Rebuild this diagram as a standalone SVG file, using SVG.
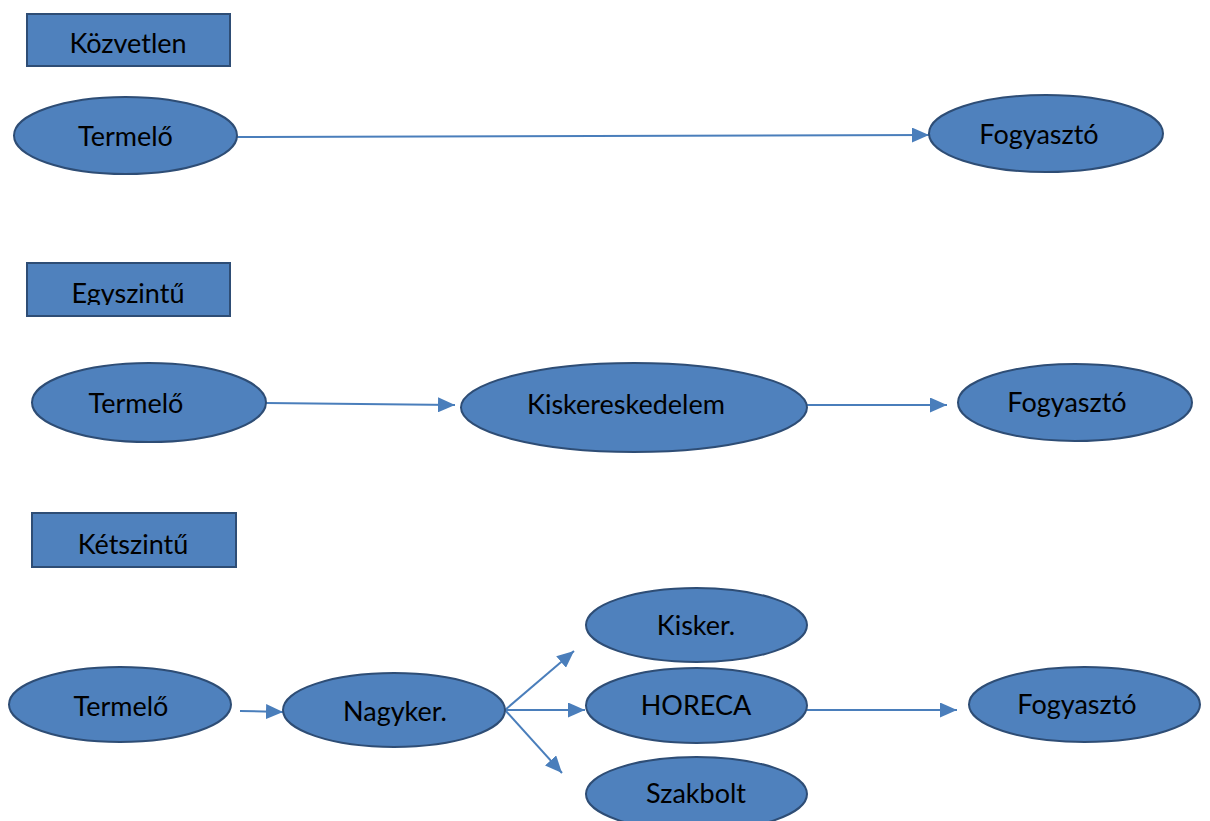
<svg xmlns="http://www.w3.org/2000/svg" width="1210" height="821" viewBox="0 0 1210 821">
<style>
.box{fill:#4F81BD;stroke:#2E4D75;stroke-width:2}
.node{fill:#4F81BD;stroke:#2E4D75;stroke-width:2}
.lbl{font-family:Lato,"Liberation Sans",sans-serif;font-size:27px;fill:#000;text-anchor:middle}
.conn{stroke:#4A7EBB;stroke-width:2;fill:none;marker-end:url(#arr)}
</style>
<defs>
<marker id="arr" markerUnits="userSpaceOnUse" markerWidth="17" markerHeight="15" refX="17" refY="7.5" orient="auto">
<path d="M0,0 L17,7.5 L0,15 Z" fill="#4A7EBB"/>
</marker>
<clipPath id="clipEgy"><rect x="28" y="264" width="202" height="41"/></clipPath>
</defs>
<rect width="1210" height="821" fill="#fff"/>

<g id="connectors">
<line class="conn" x1="237" y1="137" x2="929" y2="135"/>
<line class="conn" x1="266" y1="403" x2="455" y2="405"/>
<line class="conn" x1="807" y1="405" x2="947" y2="405"/>
<line class="conn" x1="240" y1="711" x2="283" y2="712"/>
<line class="conn" x1="505" y1="710" x2="574" y2="651"/>
<line class="conn" x1="505" y1="710" x2="585" y2="710"/>
<line class="conn" x1="505" y1="710" x2="562" y2="773"/>
<line class="conn" x1="807" y1="710" x2="957" y2="710"/>
</g>

<g id="label-kozvetlen">
<rect class="box" x="27" y="14" width="203" height="52"/>
<text class="lbl" x="128" y="53">Közvetlen</text>
</g>
<g id="termelo1">
<ellipse class="node" cx="125.5" cy="135.5" rx="111.5" ry="38.5"/>
<text class="lbl" x="125.5" y="146">Termelő</text>
</g>
<g id="fogyaszto1">
<ellipse class="node" cx="1046" cy="133.5" rx="117" ry="38.5"/>
<text class="lbl" x="1039" y="144">Fogyasztó</text>
</g>

<g id="label-egyszintu">
<rect class="box" x="27" y="263" width="203" height="53"/>
<text class="lbl" x="128" y="303" clip-path="url(#clipEgy)">Egyszintű</text>
</g>
<g id="termelo2">
<ellipse class="node" cx="149" cy="402.5" rx="117" ry="39.5"/>
<text class="lbl" x="136" y="413">Termelő</text>
</g>
<g id="kiskereskedelem">
<ellipse class="node" cx="634" cy="407.5" rx="173" ry="44.5"/>
<text class="lbl" x="626" y="414">Kiskereskedelem</text>
</g>
<g id="fogyaszto2">
<ellipse class="node" cx="1075" cy="402.5" rx="117" ry="38.5"/>
<text class="lbl" x="1067" y="412">Fogyasztó</text>
</g>

<g id="label-ketszintu">
<rect class="box" x="32" y="513" width="204" height="54"/>
<text class="lbl" x="133" y="554">Kétszintű</text>
</g>
<g id="termelo3">
<ellipse class="node" cx="120" cy="704.5" rx="111" ry="37.5"/>
<text class="lbl" x="121" y="716">Termelő</text>
</g>
<g id="nagyker">
<ellipse class="node" cx="394" cy="710" rx="111" ry="37"/>
<text class="lbl" x="395" y="721">Nagyker.</text>
</g>
<g id="kisker">
<ellipse class="node" cx="696.5" cy="625" rx="110.5" ry="37"/>
<text class="lbl" x="696" y="635">Kisker.</text>
</g>
<g id="horeca">
<ellipse class="node" cx="696.5" cy="705.5" rx="110.5" ry="37.5"/>
<text class="lbl" x="696" y="715">HORECA</text>
</g>
<g id="szakbolt">
<ellipse class="node" cx="696.5" cy="794" rx="110.5" ry="37"/>
<text class="lbl" x="696" y="803">Szakbolt</text>
</g>
<g id="fogyaszto3">
<ellipse class="node" cx="1084.5" cy="704.5" rx="115.5" ry="37.5"/>
<text class="lbl" x="1077" y="714">Fogyasztó</text>
</g>
</svg>
